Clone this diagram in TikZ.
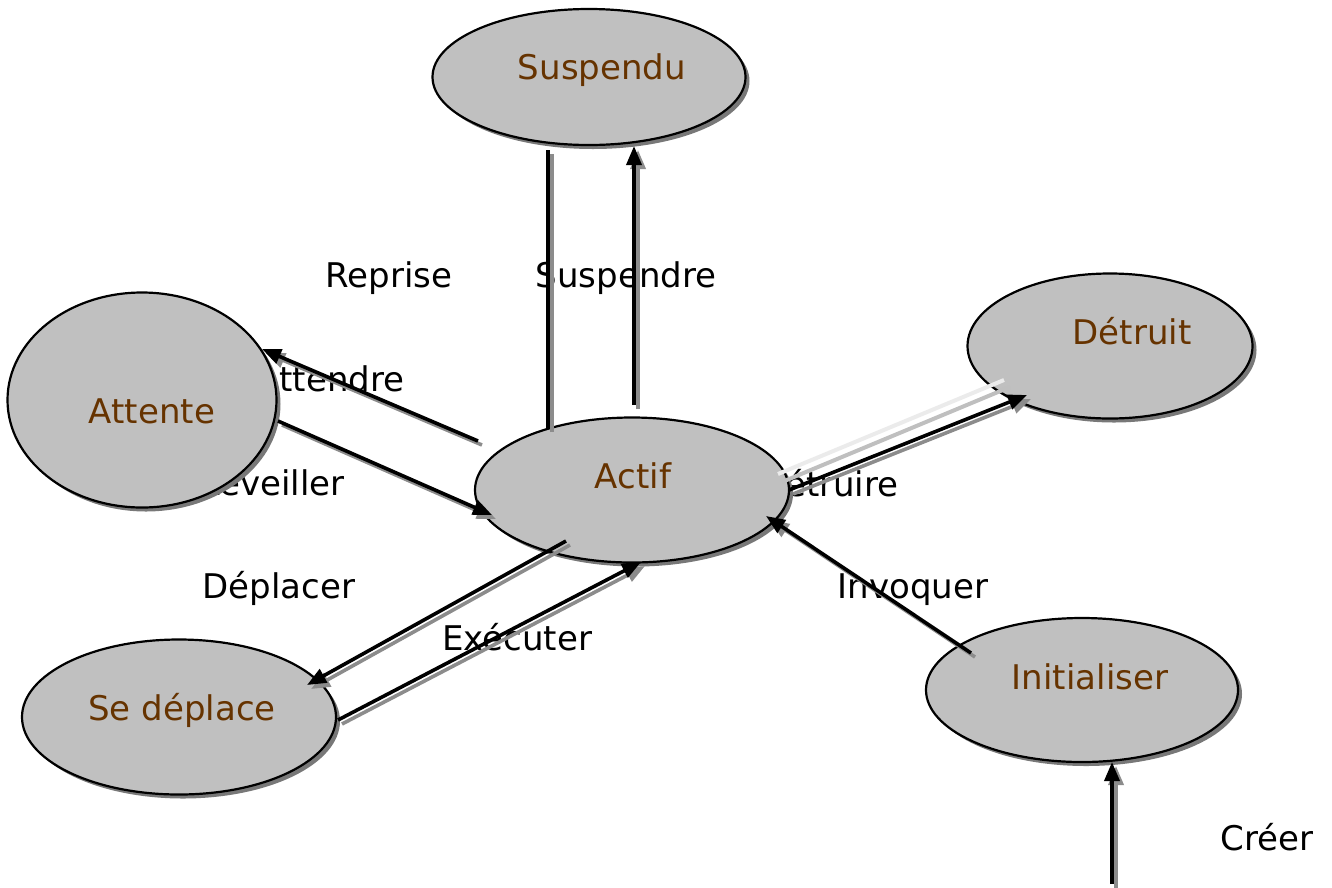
\documentclass[tikz,border=0pt]{standalone}
\usepackage{fontspec}
\setmainfont{DejaVu Sans}
\usetikzlibrary{shapes.geometric,shadows,calc,arrows.meta}
\definecolor{statefill}{RGB}{192,192,192}
\definecolor{statetext}{RGB}{102,51,0}
\definecolor{shade}{RGB}{120,120,120}
\definecolor{wireshade}{RGB}{140,140,140}

\tikzset{
  state/.style={ellipse, draw=black, line width=2.2pt, fill=statefill, inner sep=0pt,
    drop shadow={shadow xshift=4pt, shadow yshift=-4pt, fill=shade, opacity=1}},
  statename/.style={anchor=base, text=statetext, font=\fontsize{34}{40}\selectfont},
  tlabel/.style={font=\fontsize{34}{40}\selectfont, text=black},
  wire/.style={line width=3.6pt, draw=black},
  headed/.style={-{Triangle[length=19pt,width=15pt]}},
}

% all transitions; drawn once as a shifted grey shadow, once in black
\newcommand\drawlinks{%
  \draw[wire] ($(actif.center)+(-84,-62)$) -- ($(susp.center)+(-41,73)$);
  \draw[wire,headed] ($(actif.center)+(2,-85)$) -- ($(susp.center)+(45,69)$);
  \draw[wire,headed] ($(actif.center)+(-154,-49)$) -- ($(attente.center)+(120,-51)$);
  \draw[wire,headed] ($(attente.center)+(136,21)$) -- ($(actif.center)+(-140,25)$);
  \draw[wire,headed] ($(actif.center)+(157,0)$) -- ($(detruit.center)+(-83,49)$);
  \draw[wire,headed] ($(init.center)+(-111,-37)$) -- ($(actif.center)+(134,26)$);
  \draw[wire,headed] ($(actif.center)+(-66,51)$) -- ($(deplace.center)+(128,-32)$);
  \draw[wire,headed] ($(deplace.center)+(159,3)$) -- ($(actif.center)+(9,72)$);
  \draw[wire,headed] (creer-start) -- ($(init.center)+(30,72)$);
}

\begin{document}
\begin{tikzpicture}[x=1pt,y=-1pt]
\useasboundingbox (0,0) rectangle (1332,887);

% transition labels (partly covered by the states)
\node[tlabel, anchor=base] (l-reprise) at (389,287) {Reprise};
\node[tlabel, anchor=base] (l-suspendre) at (626,287) {Suspendre};
\node[tlabel, anchor=base east] (l-attendre) at (408,391) {Attendre};
\node[tlabel, anchor=base east] (l-reveiller) at (348,495) {Réveiller};
\node[tlabel, anchor=base east] (l-detruire) at (902,496) {Détruire};
\node[tlabel, anchor=base] (l-deplacer) at (279,598) {Déplacer};
\node[tlabel, anchor=base] (l-executer) at (517,650) {Exécuter};
\node[tlabel, anchor=base] (l-invoquer) at (913,598) {Invoquer};
\node[tlabel, anchor=base] (l-creer) at (1267,850) {Créer};

% states
\node[state, minimum width=313pt, minimum height=136pt] (susp) at (589,77) {};
\node[statename] (susp-t) at (602,79) {Suspendu};
\node[state, minimum width=269pt, minimum height=215pt] (attente) at (142,400) {};
\node[statename] (attente-t) at (152,423) {Attente};
\node[state, minimum width=314pt, minimum height=145pt] (actif) at (632,490) {};
\node[statename] (actif-t) at (633,488) {Actif};
\node[state, minimum width=285pt, minimum height=145pt] (detruit) at (1110,346) {};
\node[statename] (detruit-t) at (1132,344) {Détruit};
\node[state, minimum width=314pt, minimum height=155pt] (deplace) at (179,717) {};
\node[statename] (deplace-t) at (182,720) {Se déplace};
\node[state, minimum width=312pt, minimum height=144pt] (init) at (1082,690) {};
\node[statename] (init-t) at (1090,689) {Initialiser};

\coordinate (creer-start) at (1112,884);

% faint trails beside the Détruire transition
\draw[line width=4pt, draw=black!8] ($(actif.center)+(146,-16)$) -- ($(detruit.center)+(-106,34)$);
\draw[line width=4pt, draw=black!25] ($(actif.center)+(150,-8)$) -- ($(detruit.center)+(-100,41)$);

\begin{scope}[transform canvas={shift={(4pt,-4pt)}}, wire/.style={line width=3.6pt, draw=wireshade, fill=wireshade}]
  \drawlinks
\end{scope}
\drawlinks
\end{tikzpicture}
\end{document}
